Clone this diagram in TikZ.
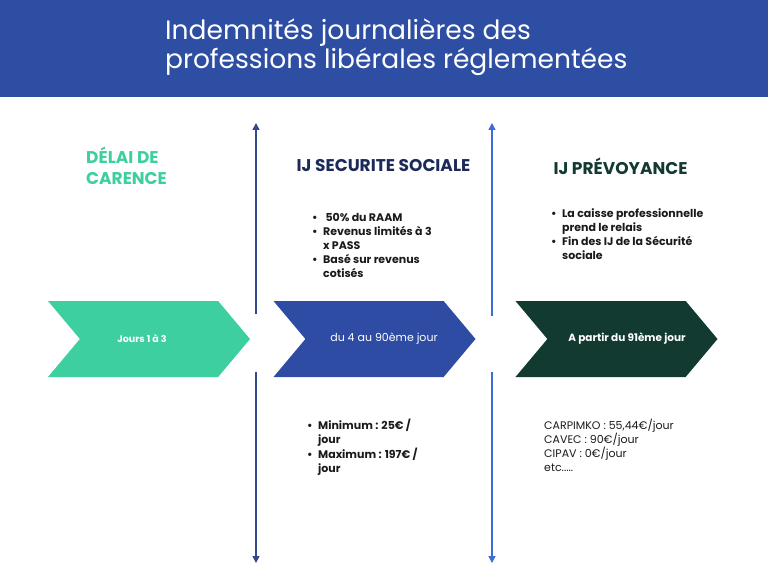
\documentclass[tikz,border=0pt]{standalone}
\usepackage{fontspec}
\setmainfont{Poppins}
\usepackage{tikz}
\usetikzlibrary{arrows.meta,positioning,shapes.symbols}
\definecolor{bandeau}{HTML}{2D4EA2}
\definecolor{menthe}{HTML}{3DCF9F}
\definecolor{roi}{HTML}{2E4CA3}
\definecolor{sapin}{HTML}{123A31}
\definecolor{marine}{HTML}{1C2A5A}
\definecolor{traitA}{HTML}{34488C}
\definecolor{traitB}{HTML}{3D6BD9}
\definecolor{encre}{HTML}{1A1A1A}
\tikzset{
  >={Triangle[length=7pt,width=7pt]},
  % frise
  etape/.style={signal,signal to=east,signal from=west,signal pointer angle=100,
                minimum width=202,minimum height=76,inner sep=0pt,text=white,
                font=\fontsize{9.5}{12}\selectfont\bfseries},
  titre/.style={font=\fontsize{17}{21}\selectfont\bfseries,align=left,inner sep=0pt},
  liste/.style={anchor=north west,inner sep=0pt,text=encre,
                font=\fontsize{11}{14}\selectfont},
  axe/.style={->,line width=1.5pt},
}
\newcommand{\puces}[1]{\begin{tabular}{@{}p{11pt}@{}l@{}}#1\end{tabular}}

\begin{document}
\begin{tikzpicture}[x=1pt,y=-1pt]
  \useasboundingbox (0,0) rectangle (768,575);
  \fill[bandeau] (0,0) rectangle (768,97);
  \node[anchor=west,text=white,align=left,inner sep=0pt,
        font=\fontsize{26.5}{25}\selectfont] (entete) at (165,47.5)
        {Indemnités journalières des\\professions libérales réglementées};
  % axes
  \coordinate (a1h) at (256,123);
  \coordinate (a1m) at (256,314);
  \coordinate (a1n) at (256,372);
  \coordinate (a1b) at (256,563);
  \coordinate (a2h) at (492,123);
  \coordinate (a2m) at (492,316);
  \coordinate (a2n) at (492,372);
  \coordinate (a2b) at (492,563);
  \draw[axe,traitA] (a1m) -- (a1h);
  \draw[axe,traitA] (a1n) -- (a1b);
  \draw[axe,traitB] (a2m) -- (a2h);
  \draw[axe,traitB] (a2n) -- (a2b);
  % titres
  \node[titre,anchor=west,text=menthe] (carence) at (86,166) {DÉLAI DE\\CARENCE};
  \node[titre,text=marine] (secu) at (383.5,166) {IJ SECURITE SOCIALE};
  \node[titre,text=sapin] (prevoy) at (620.5,166) {IJ PRÉVOYANCE};
  % frise
  \node[etape,fill=menthe] (e1) at (149,339) {Jours 1 à 3\hspace*{14pt}};
  \node[etape,fill=roi,font=\fontsize{11}{12}\selectfont] (e2) at (374.5,339)
    {\hspace*{19pt}du 4 au 90ème jour};
  \node[etape,fill=sapin,font=\fontsize{10.5}{12}\selectfont\bfseries] (e3) at (616.5,339)
    {\hspace*{21pt}A partir du 91ème jour};
  % listes
  \node[liste] (l1) at (312,211.7) {\bfseries\puces{
    \textbullet & \ 50\% du RAAM\\
    \textbullet & Revenus limités à 3\\
                & x PASS\\
    \textbullet & Basé sur revenus\\
                & cotisés}};
  \node[liste] (l2) at (551,207.7) {\bfseries\puces{
    \textbullet & La caisse professionnelle\\
                & prend le relais\\
    \textbullet & Fin des IJ de la Sécurité\\
                & sociale}};
  \node[liste] (l3) at (307,418.7) {\bfseries\puces{
    \textbullet & Minimum : 25€ /\\
                & jour\\
    \textbullet & Maximum : 197€ /\\
                & jour}};
  \node[liste,align=left] (l4) at (544,418.7)
    {CARPIMKO : 55,44€/jour\\CAVEC : 90€/jour\\CIPAV : 0€/jour\\etc.....};
\end{tikzpicture}
\end{document}
